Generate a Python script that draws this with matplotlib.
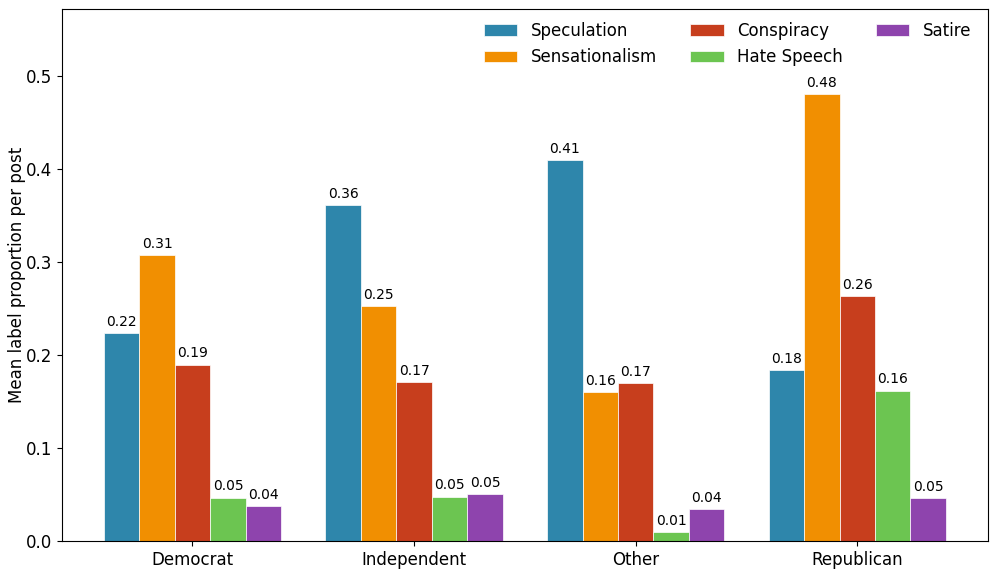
import matplotlib
matplotlib.use("Agg")
import matplotlib.pyplot as plt
import numpy as np

groups = ["Democrat", "Independent", "Other", "Republican"]
labels = ["Speculation", "Sensationalism", "Conspiracy", "Hate Speech", "Satire"]
speculation = [0.224, 0.361, 0.410, 0.184]
sensationalism = [0.308, 0.253, 0.160, 0.481]
conspiracy = [0.190, 0.171, 0.170, 0.264]
hate_speech = [0.047, 0.048, 0.010, 0.162]
satire = [0.038, 0.051, 0.035, 0.046]
series = [speculation, sensationalism, conspiracy, hate_speech, satire]
colors = ["#2E86AB", "#F18F01", "#C73E1D", "#6CC551", "#8E44AD"]

fig, ax = plt.subplots(figsize=(9.96, 5.74), dpi=100)
x = np.arange(len(groups))
w = 0.16
for i, (vals, lab, c) in enumerate(zip(series, labels, colors)):
    bars = ax.bar(x + (i - 2) * w, vals, w, label=lab, color=c,
                  edgecolor="white", linewidth=0.5)
    for b, v in zip(bars, vals):
        ax.annotate(f"{v:.2f}", (b.get_x() + b.get_width() / 2, v),
                    xytext=(0, 3), textcoords="offset points",
                    ha="center", va="bottom", fontsize=10)

ax.set_xticks(x)
ax.set_xticklabels(groups, fontsize=12)
ax.tick_params(axis="y", labelsize=12)
ax.set_ylabel("Mean label proportion per post", fontsize=12, labelpad=0)
ax.set_ylim(0, 0.572)
ax.legend(ncol=3, frameon=False, fontsize=12, loc="upper right",
          bbox_to_anchor=(0.998, 1.004))
fig.subplots_adjust(left=0.062, right=0.992, top=0.984, bottom=0.057)
fig.savefig("out.png", dpi=100)
